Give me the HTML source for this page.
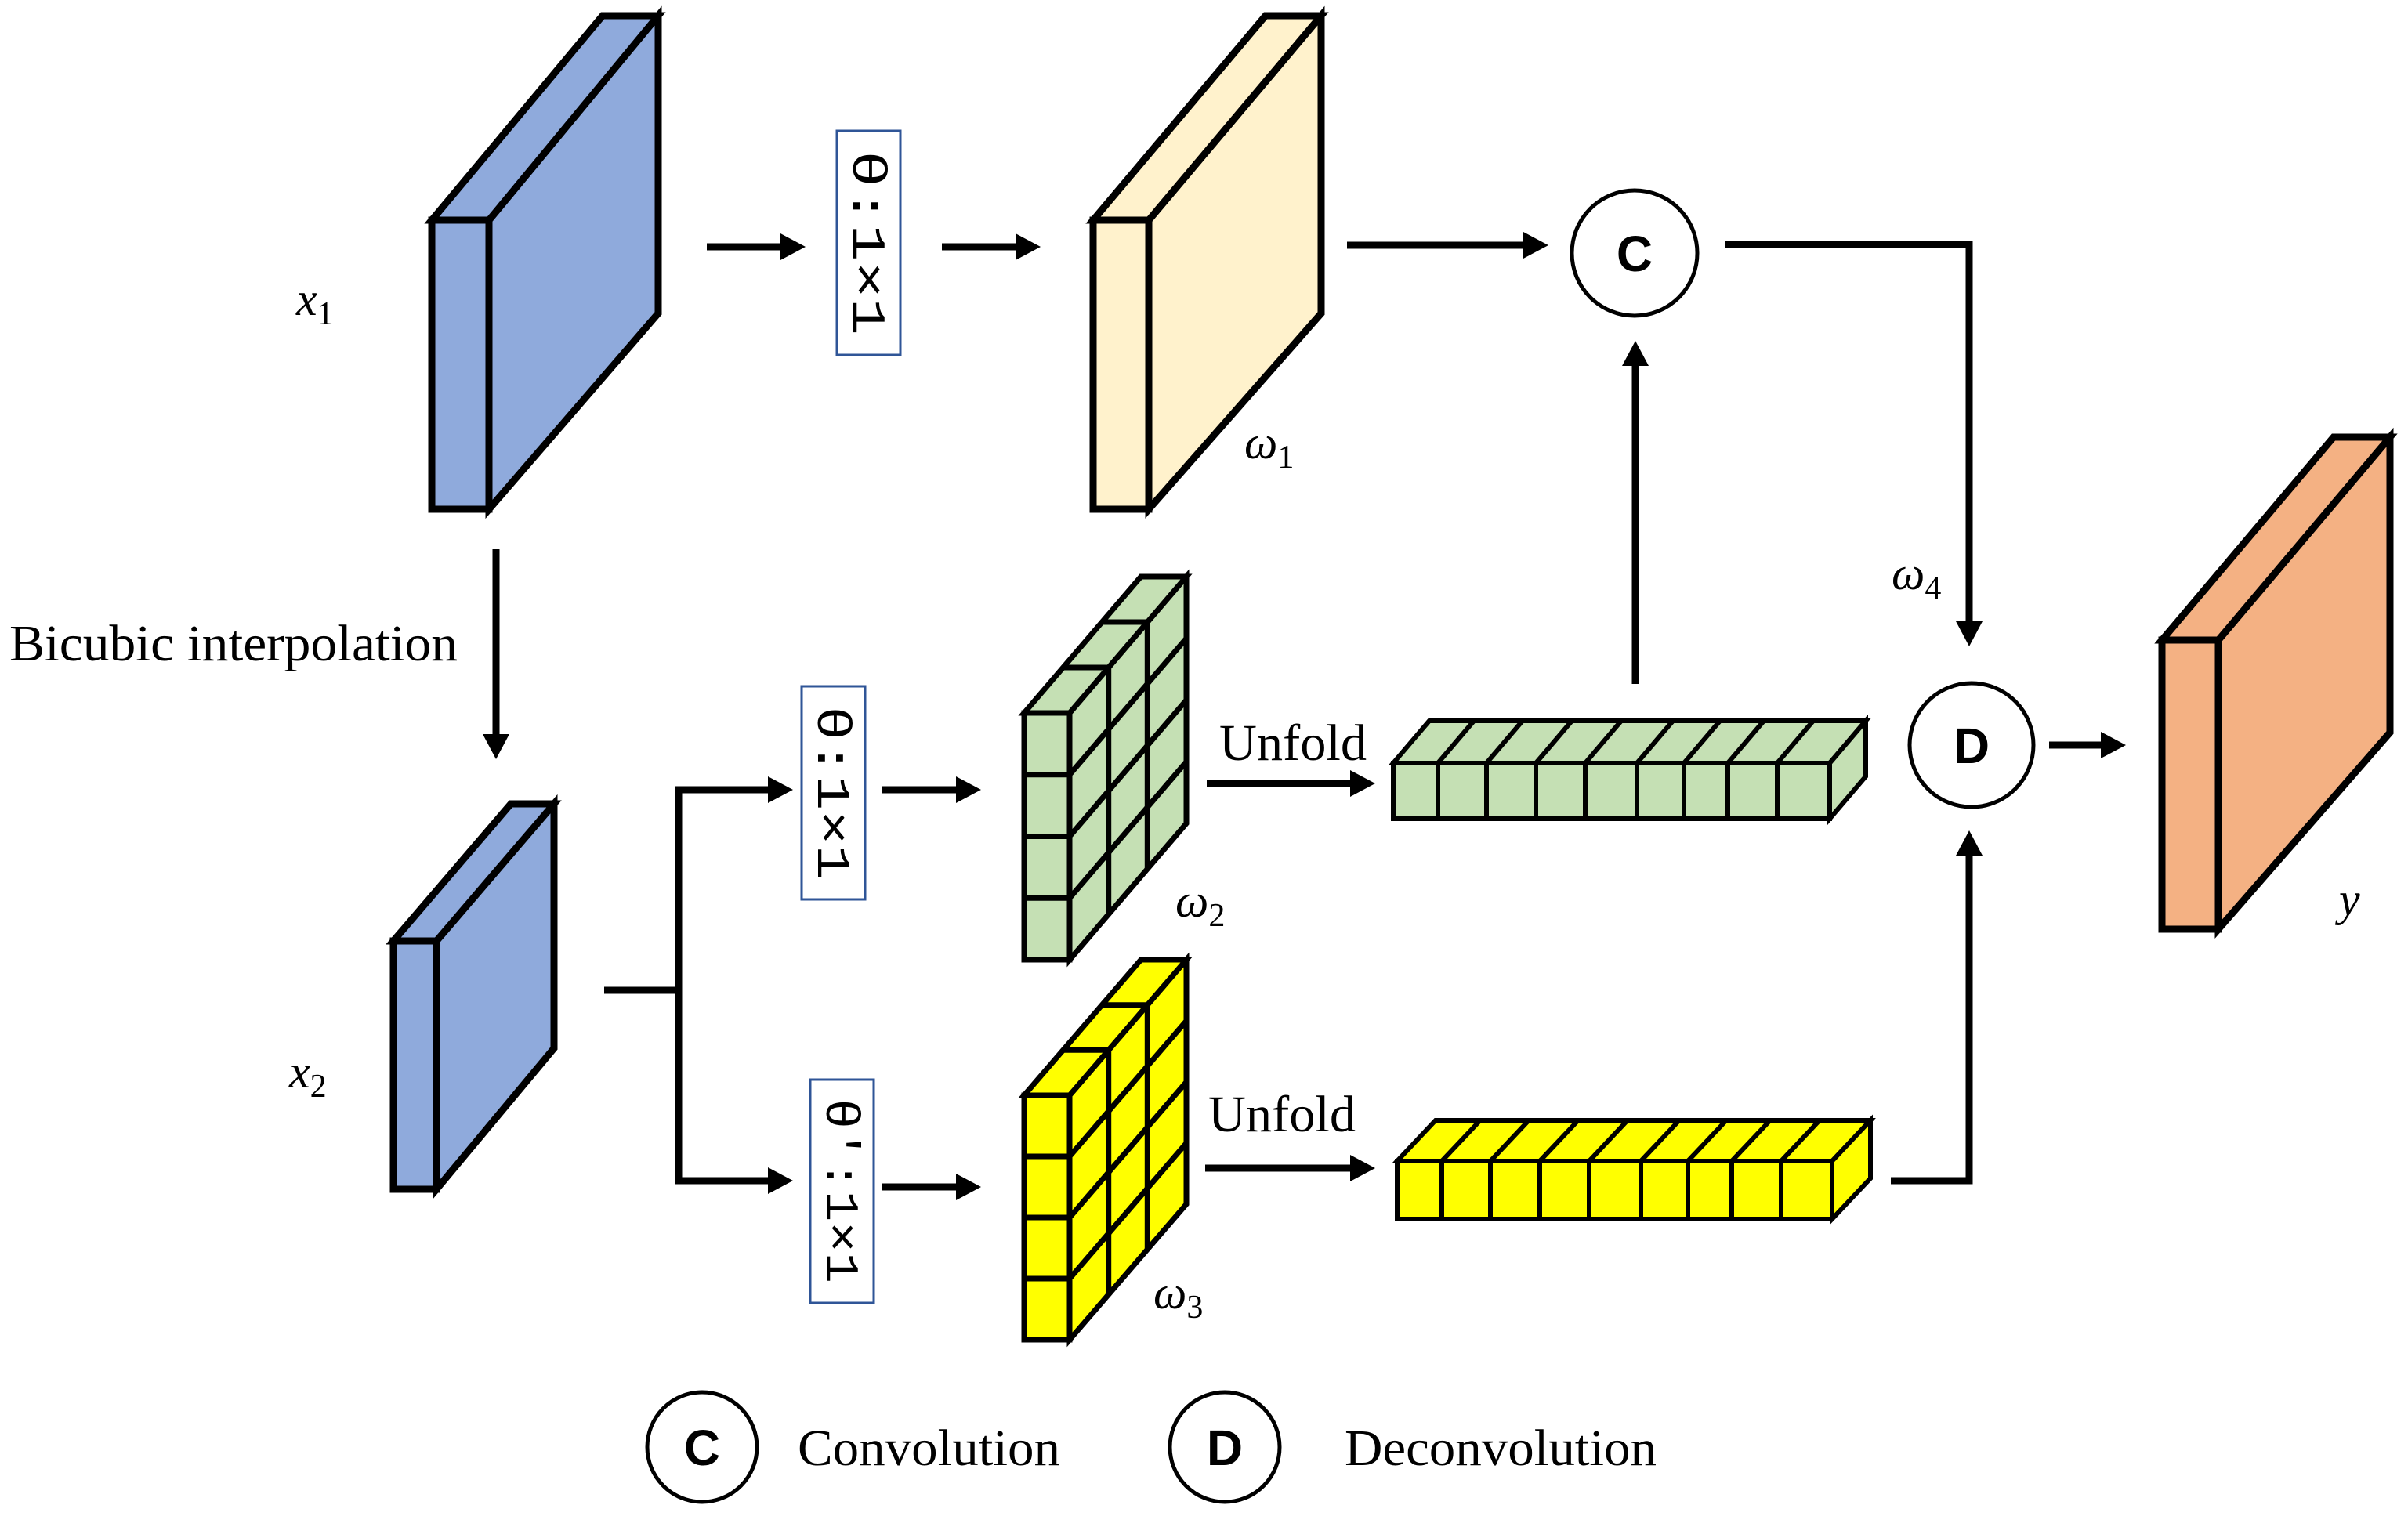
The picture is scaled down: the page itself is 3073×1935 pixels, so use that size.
<!DOCTYPE html>
<html><head><meta charset="utf-8"><style>
html,body{margin:0;padding:0;background:#fff;}
svg{display:block;}
.s{font-family:"Liberation Serif",serif;}
.i{font-family:"Liberation Serif",serif;font-style:italic;}
.b{font-family:"Liberation Sans",sans-serif;font-weight:bold;}
.m{font-family:"Liberation Mono","DejaVu Sans Mono",monospace;}
</style></head><body>
<svg width="3073" height="1935" viewBox="0 0 3073 1935" xmlns="http://www.w3.org/2000/svg">
<g stroke="#000" stroke-width="9" stroke-linejoin="miter">
<!-- blue slab 1 -->
<polygon points="624,281 840,20 840,400 624,650" fill="#8faadc"/>
<polygon points="551,281 624,281 840,20 769,20" fill="#8faadc"/>
<rect x="551" y="281" width="73" height="369" fill="#8faadc"/>
<!-- beige slab -->
<polygon points="1466,281 1686,20 1686,400 1466,650" fill="#fff2cc"/>
<polygon points="1395,281 1466,281 1686,20 1615,20" fill="#fff2cc"/>
<rect x="1395" y="281" width="71" height="369" fill="#fff2cc"/>
<!-- blue slab 2 -->
<polygon points="557,1201 707,1026 707,1338 557,1518" fill="#8faadc"/>
<polygon points="502,1201 557,1201 707,1026 652,1026" fill="#8faadc"/>
<rect x="502" y="1201" width="55" height="317" fill="#8faadc"/>
<!-- orange slab -->
<polygon points="2831,817 3050,558 3050,935 2831,1186" fill="#f4b183"/>
<polygon points="2759,817 2831,817 3050,558 2978,558" fill="#f4b183"/>
<rect x="2759" y="817" width="72" height="369" fill="#f4b183"/>
</g>

<g stroke="#000" stroke-width="7">
<!-- green cube -->
<polygon points="1365,910 1514,736 1514,1051 1365,1225" fill="#c5e0b4"/>
<polygon points="1307,910 1365,910 1514,736 1456,736" fill="#c5e0b4"/>
<rect x="1307" y="910" width="58" height="315" fill="#c5e0b4"/>
<line x1="1414.7" y1="852" x2="1414.7" y2="1167"/>
<line x1="1464.3" y1="794" x2="1464.3" y2="1109"/>
<line x1="1365" y1="988.75" x2="1514" y2="814.75"/>
<line x1="1365" y1="1067.5" x2="1514" y2="893.5"/>
<line x1="1365" y1="1146.25" x2="1514" y2="972.25"/>
<line x1="1307" y1="988.75" x2="1365" y2="988.75"/>
<line x1="1307" y1="1067.5" x2="1365" y2="1067.5"/>
<line x1="1307" y1="1146.25" x2="1365" y2="1146.25"/>
<line x1="1356.7" y1="852" x2="1414.7" y2="852"/>
<line x1="1406.3" y1="794" x2="1464.3" y2="794"/>
<!-- yellow cube -->
<polygon points="1365,1398 1514,1225 1514,1537 1365,1710" fill="#ffff00"/>
<polygon points="1307,1398 1365,1398 1514,1225 1456,1225" fill="#ffff00"/>
<rect x="1307" y="1398" width="58" height="312" fill="#ffff00"/>
<line x1="1414.7" y1="1340.3" x2="1414.7" y2="1652.3"/>
<line x1="1464.3" y1="1282.7" x2="1464.3" y2="1594.7"/>
<line x1="1365" y1="1476" x2="1514" y2="1303"/>
<line x1="1365" y1="1554" x2="1514" y2="1381"/>
<line x1="1365" y1="1632" x2="1514" y2="1459"/>
<line x1="1307" y1="1476" x2="1365" y2="1476"/>
<line x1="1307" y1="1554" x2="1365" y2="1554"/>
<line x1="1307" y1="1632" x2="1365" y2="1632"/>
<line x1="1356.7" y1="1340.3" x2="1414.7" y2="1340.3"/>
<line x1="1406.3" y1="1282.7" x2="1464.3" y2="1282.7"/>
</g>

<g stroke="#000" stroke-width="6">
<!-- green bar -->
<polygon points="1778,974 2335,974 2381,920 1824,920" fill="#c5e0b4"/>
<polygon points="2335,974 2381,920 2381,991 2335,1045" fill="#c5e0b4"/>
<rect x="1778" y="974" width="557" height="71" fill="#c5e0b4"/>
<path d="M1835,1045V974L1881,920 M1897,1045V974L1943,920 M1960,1045V974L2006,920 M2023,1045V974L2069,920 M2089,1045V974L2135,920 M2149,1045V974L2195,920 M2205,1045V974L2251,920 M2268,1045V974L2314,920" fill="none"/>
<!-- yellow bar -->
<polygon points="1783,1482 2338,1482 2387,1430 1832,1430" fill="#ffff00"/>
<polygon points="2338,1482 2387,1430 2387,1504 2338,1556" fill="#ffff00"/>
<rect x="1783" y="1482" width="555" height="74" fill="#ffff00"/>
<path d="M1840,1556V1482L1889,1430 M1902,1556V1482L1951,1430 M1965,1556V1482L2014,1430 M2028,1556V1482L2077,1430 M2094,1556V1482L2143,1430 M2154,1556V1482L2203,1430 M2210,1556V1482L2259,1430 M2273,1556V1482L2322,1430" fill="none"/>
</g>

<!-- connectors -->
<g stroke="#000" stroke-width="9" fill="none">
<line x1="902" y1="315" x2="1000" y2="315"/>
<line x1="1202" y1="315" x2="1300" y2="315"/>
<line x1="1719" y1="313" x2="1948" y2="313"/>
<polyline points="2202,312 2513,312 2513,795"/>
<line x1="2087" y1="873" x2="2087" y2="465"/>
<line x1="2615" y1="951" x2="2685" y2="951"/>
<polyline points="2413,1507 2513,1507 2513,1090"/>
<line x1="633" y1="701" x2="633" y2="940"/>
<polyline points="771,1264 866,1264"/>
<polyline points="984,1008 866,1008 866,1507 984,1507"/>
<line x1="1126" y1="1008" x2="1224" y2="1008"/>
<line x1="1126" y1="1515" x2="1224" y2="1515"/>
<line x1="1540" y1="1000" x2="1728" y2="1000"/>
<line x1="1538" y1="1491" x2="1728" y2="1491"/>
</g>
<g fill="#000">
<polygon points="1028,315 996,298 996,332"/>
<polygon points="1328,315 1296,298 1296,332"/>
<polygon points="1976,313 1944,296 1944,330"/>
<polygon points="2513,825 2496,793 2530,793"/>
<polygon points="2087,435 2070,467 2104,467"/>
<polygon points="2713,951 2681,934 2681,968"/>
<polygon points="2513,1060 2496,1092 2530,1092"/>
<polygon points="633,969 616,937 650,937"/>
<polygon points="1012,1008 980,991 980,1025"/>
<polygon points="1012,1507 980,1490 980,1524"/>
<polygon points="1252,1008 1220,991 1220,1025"/>
<polygon points="1252,1515 1220,1498 1220,1532"/>
<polygon points="1755,1000 1723,983 1723,1017"/>
<polygon points="1755,1491 1723,1474 1723,1508"/>
</g>

<!-- theta boxes -->
<g fill="#fff" stroke="#2f5597" stroke-width="3">
<rect x="1068" y="167" width="81" height="286"/>
<rect x="1023" y="876" width="81" height="272"/>
<rect x="1034" y="1378" width="81" height="285"/>
</g>
<g class="m" font-size="60" fill="#000" text-anchor="middle">
<text transform="translate(1089,310) rotate(90)" textLength="236" lengthAdjust="spacingAndGlyphs">θ:1×1</text>
<text transform="translate(1044,1012) rotate(90)" textLength="222" lengthAdjust="spacingAndGlyphs">θ:1×1</text>
<text transform="translate(1055,1520) rotate(90)" textLength="236" lengthAdjust="spacingAndGlyphs">θ′:1×1</text>
</g>

<!-- circles -->
<g fill="#fff" stroke="#000" stroke-width="5">
<circle cx="2086" cy="323" r="80"/>
<circle cx="2516" cy="951" r="79"/>
<circle cx="896" cy="1847" r="70"/>
<circle cx="1563" cy="1847" r="70"/>
</g>
<g class="b" font-size="64" text-anchor="middle" fill="#000">
<text x="2086" y="346">C</text>
<text x="2516" y="974">D</text>
<text x="896" y="1870">C</text>
<text x="1563" y="1870">D</text>
</g>

<!-- text labels -->
<g class="s" font-size="66" fill="#000">
<text x="12" y="843" textLength="572" lengthAdjust="spacingAndGlyphs">Bicubic interpolation</text>
<text x="1556" y="970" textLength="188" lengthAdjust="spacingAndGlyphs">Unfold</text>
<text x="1542" y="1444" textLength="188" lengthAdjust="spacingAndGlyphs">Unfold</text>
<text x="1018" y="1870" textLength="335" lengthAdjust="spacingAndGlyphs">Convolution</text>
<text x="1716" y="1870" textLength="398" lengthAdjust="spacingAndGlyphs">Deconvolution</text>
</g>
<g class="i" font-size="60" fill="#000">
<text x="378" y="402">x<tspan class="s" font-style="normal" font-size="42" dy="12">1</tspan></text>
<text x="369" y="1388">x<tspan class="s" font-style="normal" font-size="42" dy="12">2</tspan></text>
<text x="1588" y="585">ω<tspan class="s" font-style="normal" font-size="42" dy="12">1</tspan></text>
<text x="1500" y="1170">ω<tspan class="s" font-style="normal" font-size="42" dy="12">2</tspan></text>
<text x="1472" y="1670">ω<tspan class="s" font-style="normal" font-size="42" dy="12">3</tspan></text>
<text x="2414" y="752">ω<tspan class="s" font-style="normal" font-size="42" dy="12">4</tspan></text>
<text x="2985" y="1168">y</text>
</g>
</svg>
</body></html>
